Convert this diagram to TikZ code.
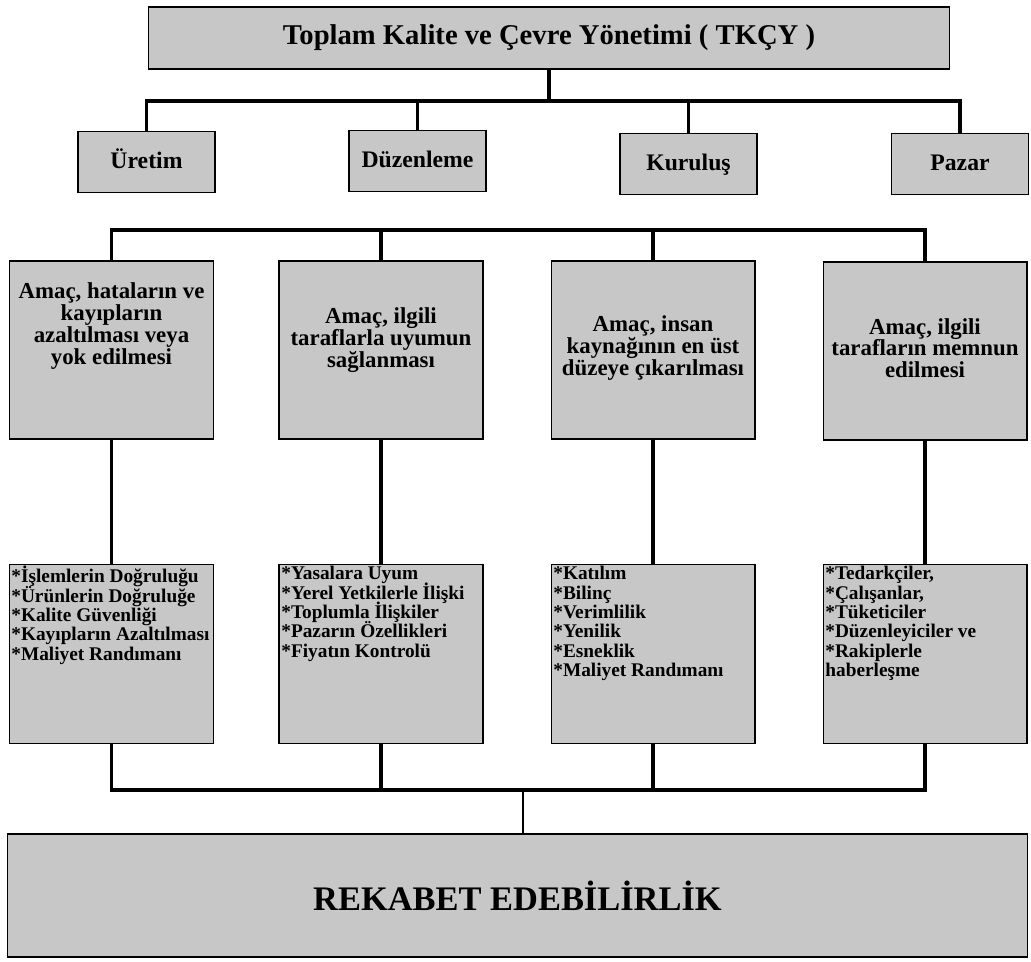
\documentclass[tikz,border=0pt]{standalone}
\usepackage{fontspec}
\setmainfont{Liberation Serif}
\usetikzlibrary{positioning}
\definecolor{dotgray}{gray}{0.78}
\lineskiplimit=-20pt

\begin{document}
\begin{tikzpicture}[x=0.02cm, y=-0.02cm]


\tikzset{box/.style={fill=dotgray, shape=rectangle, draw=black, line width=0.6, inner sep=0}}
\tikzset{topbox/.style={box, minimum width=16.04cm, minimum height=1.24cm, font=\fontsize{16.3}{18}\selectfont\bfseries}}
\tikzset{unit/.style={box, minimum width=2.74cm, minimum height=1.22cm, text height=10pt, text depth=3pt, font=\fontsize{13.5}{15}\selectfont\bfseries}}
\tikzset{goal/.style={box, minimum width=4.08cm, minimum height=3.56cm}}
\tikzset{goaltext/.style={align=center, inner sep=0, font=\fontsize{13}{12.4}\selectfont\bfseries}}
\tikzset{aims/.style={box, minimum width=4.08cm, minimum height=3.58cm}}
\tikzset{aimstext/.style={align=left, anchor=north west, inner sep=0, font=\fontsize{11}{11}\selectfont\bfseries}}
\tikzset{result/.style={box, minimum width=20.42cm, minimum height=2.46cm, font=\fontsize{19.6}{21}\selectfont\bfseries}}
\tikzset{link/.style={line width=2.2}}
\tikzset{thinlink/.style={line width=1.3}}
\useasboundingbox (0,0) rectangle (1031,962);
\node[topbox] (tkcy) at (549,38) {Toplam Kalite ve Çevre Yönetimi ( TKÇY )};
\node[unit] (uretim) at (146.5,162) {Üretim};
\node[unit] (duzen) at (417.5,161) {Düzenleme};
\node[unit] (kurulus) at (688.5,164) {Kuruluş};
\node[unit] (pazar) at (960,164) {Pazar};
\node[goal] (g1) at (111.5,350) {};
\node[goal] (g2) at (381,350) {};
\node[goal] (g3) at (653,350) {};
\node[goal] (g4) at (925,351) {};
\node[goaltext] (g1t) at (111.5,326) {Amaç, hataların ve\\kayıpların\\azaltılması veya\\yok edilmesi};
\node[goaltext] (g2t) at (381,340) {Amaç, ilgili\\taraflarla uyumun\\sağlanması};
\node[goaltext] (g3t) at (653,348) {Amaç, insan\\kaynağının en üst\\düzeye çıkarılması};
\node[goaltext] (g4t) at (925,348) {Amaç, ilgili\\tarafların memnun\\edilmesi};
\node[aims] (l1) at (111.5,654) {};
\node[aims] (l2) at (381,654) {};
\node[aims] (l3) at (653,654) {};
\node[aims] (l4) at (925,654) {};
\node[aimstext] (l1t) at (11,566) {*İşlemlerin Doğruluğu\\*Ürünlerin Doğruluğe\\*Kalite Güvenliği\\*Kayıpların Azaltılması\\*Maliyet Randımanı};
\node[aimstext] (l2t) at (281,566) {*Yasalara Uyum\\*Yerel Yetkilerle İlişki\\*Toplumla İlişkiler\\*Pazarın Özellikleri\\*Fiyatın Kontrolü};
\node[aimstext] (l3t) at (553,566) {*Katılım\\*Bilinç\\*Verimlilik\\*Yenilik\\*Esneklik\\*Maliyet Randımanı};
\node[aimstext] (l4t) at (825,566) {*Tedarkçiler,\\*Çalışanlar,\\*Tüketiciler\\*Düzenleyiciler ve\\*Rakiplerle\\haberleşme};
\node[result] (rek) at (517.5,895.5) {REKABET EDEBİLİRLİK};
\coordinate (bar1) at (549,101);
\coordinate (bar2) at (520,230);
\coordinate (bar3) at (523,790);
\draw[link] (tkcy) -- (bar1);
\draw[link] (uretim.north) |- (bar1) -| (pazar.north);
\draw[link] (duzen.north) -- (duzen.north |- bar1);
\draw[link] (kurulus.north) -- (kurulus.north |- bar1);
\draw[link] (g1.north) |- (bar2) -| (g4.north);
\draw[link] (g2.north) -- (g2.north |- bar2);
\draw[link] (g3.north) -- (g3.north |- bar2);
\draw[link] (g1) -- (l1);
\draw[link] (g2) -- (l2);
\draw[link] (g3) -- (l3);
\draw[link] (g4) -- (l4);
\draw[link] (l1.south) |- (bar3) -| (l4.south);
\draw[link] (l2.south) -- (l2.south |- bar3);
\draw[link] (l3.south) -- (l3.south |- bar3);
\draw[thinlink] (bar3) -- (bar3 |- rek.north);

\end{tikzpicture}
\end{document}
